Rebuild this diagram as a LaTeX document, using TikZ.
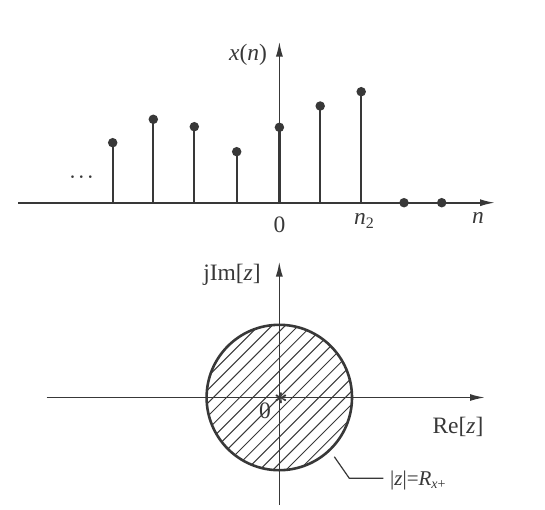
\documentclass[tikz,border=0pt]{standalone}
\usepackage{fontspec}
\setmainfont{Liberation Serif}
\usetikzlibrary{arrows.meta,calc}
\definecolor{ink}{HTML}{383838}
\tikzset{
  axis/.style={draw=ink, line width=1.6pt, -{Latex[length=15pt,width=7pt]}},
  stem/.style={draw=ink, line width=2.3pt},
  dotmark/.style={circle, fill=ink, inner sep=0pt, minimum size=9.5pt},
  lab/.style={text=ink, inner sep=0pt, font=\fontsize{23.5}{25}\selectfont},
  hatch/.style={draw=ink, line width=1pt},
  rim/.style={draw=ink, line width=2.6pt}
}
\begin{document}
\begin{tikzpicture}[x=1pt, y=-1pt]
\useasboundingbox (0,0) rectangle (545,509);
% ---------- top: sequence ----------
\coordinate (hL) at (18,202.7);
\coordinate (hR) at (495,202.7);
\coordinate (o1) at (279.4,202.7);
\coordinate (vT) at (279.4,41.5);
\draw[axis] (hL) -- (hR);
\draw[axis] (o1) -- (vT);
\foreach \nm/\x/\y in {a/112.7/142.7, b/153.3/119.3, c/194.3/126.7, d/236.7/151.7, e/279.4/127.3, f/320.2/106, g/361.2/91.7}{
  \coordinate (base\nm) at (\x,202.7);
  \node[dotmark] (top\nm) at (\x,\y) {};
  \draw[stem] (base\nm) -- (top\nm.center);
}
\node[dotmark] (z1) at (404,202.7) {};
\node[dotmark] (z2) at (441.7,202.7) {};
\node[lab, font=\fontsize{16}{16}\selectfont\boldmath] (dots) at (81.5,177.5) {$\cdots$};
\node[lab] (xn) at (248,55) {\textit{x}(\textit{n})};
\node[lab] (zero1) at (279.4,225) {0};
\node[lab] (n2) at (364,221) {\textit{n}\raisebox{-0.35ex}{\fontsize{16}{17}\selectfont 2}};
\node[lab] (nlab) at (478,218) {\textit{n}};
% ---------- bottom: z-plane ----------
\coordinate (O) at (279.3,397.5);
\coordinate (rL) at (46.7,397.5);
\coordinate (rR) at (485,397.5);
\coordinate (iB) at (279.3,505);
\coordinate (iT) at (279.3,261.5);
\begin{scope}
  \clip (O) circle[radius=72.7];
  \foreach \s in {-14,...,14}{
    \draw[hatch] ($(O)+(\s*13.2-110,110)$) -- ($(O)+(\s*13.2+110,-110)$);
  }
\end{scope}
\draw[rim] (O) circle[radius=72.7];
\draw[axis] (rL) -- (rR);
\draw[axis] (iB) -- (iT);
\node[lab, font=\fontsize{24}{24}\selectfont\boldmath] (star) at (281,399) {$\ast$};
\node[lab] (zero2) at (265,411) {0};
\node[lab] (im) at (232,275) {jIm[\textit{z}]};
\node[lab] (re) at (458,427) {Re[\textit{z}]};
\coordinate (p1) at (334.3,456.7);
\coordinate (p2) at (349.3,478.3);
\coordinate (p3) at (383.3,478.3);
\draw[draw=ink, line width=1.2pt] (p1) -- (p2) -- (p3);
\node[lab, font=\fontsize{21}{22}\selectfont, anchor=west] (rx) at (390,480) {|\textit{z}|=\textit{R}\raisebox{-0.4ex}{\fontsize{14}{15}\selectfont\textit{x}+}};
\end{tikzpicture}
\end{document}
